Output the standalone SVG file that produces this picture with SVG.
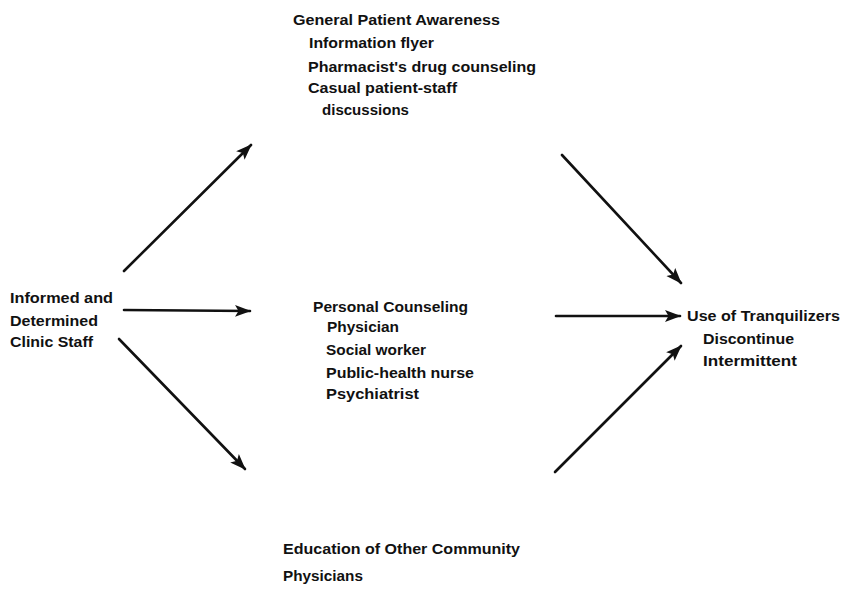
<svg xmlns="http://www.w3.org/2000/svg" width="843" height="589" viewBox="0 0 843 589">
<defs>
<style>
text{font-family:"Liberation Sans",Arial,sans-serif;font-size:15.5px;font-weight:bold;fill:#111}
.c line{stroke:#111;stroke-width:2.6;stroke-linecap:round;fill:none;marker-end:url(#ah)}
</style>
<marker id="ah" markerWidth="17" markerHeight="13" refX="15" refY="6.5" orient="auto" markerUnits="userSpaceOnUse">
<path d="M0,0.5 L16,6.5 L0,12.5 L3.5,6.5 Z" fill="#111"/>
</marker>
</defs>
<rect width="843" height="589" fill="#fff"/>
<g id="staff">
<text x="10" y="303" textLength="103" lengthAdjust="spacingAndGlyphs">Informed and</text>
<text x="10" y="326" textLength="88" lengthAdjust="spacingAndGlyphs">Determined</text>
<text x="10" y="347" textLength="83" lengthAdjust="spacingAndGlyphs">Clinic Staff</text>
</g>
<g id="awareness">
<text x="293" y="25" textLength="207" lengthAdjust="spacingAndGlyphs">General Patient Awareness</text>
<text x="309" y="48" textLength="125" lengthAdjust="spacingAndGlyphs">Information flyer</text>
<text x="308" y="72" textLength="228" lengthAdjust="spacingAndGlyphs">Pharmacist's drug counseling</text>
<text x="308" y="93" textLength="149" lengthAdjust="spacingAndGlyphs">Casual patient-staff</text>
<text x="322" y="115" textLength="87" lengthAdjust="spacingAndGlyphs">discussions</text>
</g>
<g id="counseling">
<text x="313" y="312" textLength="155" lengthAdjust="spacingAndGlyphs">Personal Counseling</text>
<text x="327" y="332" textLength="72" lengthAdjust="spacingAndGlyphs">Physician</text>
<text x="326" y="355" textLength="100" lengthAdjust="spacingAndGlyphs">Social worker</text>
<text x="326" y="378" textLength="148" lengthAdjust="spacingAndGlyphs">Public-health nurse</text>
<text x="326" y="399" textLength="93" lengthAdjust="spacingAndGlyphs">Psychiatrist</text>
</g>
<g id="education">
<text x="283" y="554" textLength="237" lengthAdjust="spacingAndGlyphs">Education of Other Community</text>
<text x="283" y="581" textLength="80" lengthAdjust="spacingAndGlyphs">Physicians</text>
</g>
<g id="tranquilizers">
<text x="687" y="321" textLength="153" lengthAdjust="spacingAndGlyphs">Use of Tranquilizers</text>
<text x="703" y="344" textLength="91" lengthAdjust="spacingAndGlyphs">Discontinue</text>
<text x="703" y="366" textLength="94" lengthAdjust="spacingAndGlyphs">Intermittent</text>
</g>
<g class="c" id="connectors">
<line x1="124" y1="271" x2="251" y2="145"/>
<line x1="124" y1="310" x2="250" y2="311"/>
<line x1="119" y1="339" x2="245" y2="469"/>
<line x1="562" y1="155" x2="681" y2="283"/>
<line x1="556" y1="316" x2="680" y2="316"/>
<line x1="555" y1="472" x2="681" y2="346"/>
</g>
</svg>
